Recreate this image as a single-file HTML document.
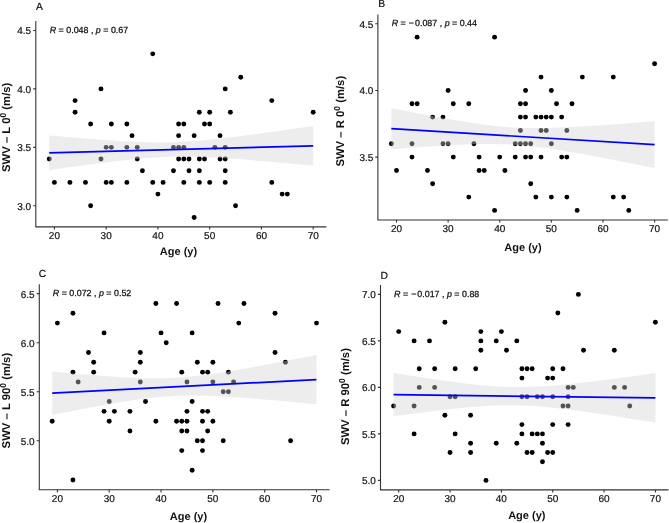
<!DOCTYPE html>
<html><head><meta charset="utf-8"><style>
html,body{margin:0;padding:0;background:#fff;}
body{width:669px;height:523px;overflow:hidden;}
svg{display:block;filter:blur(0.3px);will-change:transform;text-rendering:geometricPrecision;}
</style></head><body>
<svg width="669" height="523" viewBox="0 0 669 523">
<rect width="669" height="523" fill="#fff"/>
<g fill="#000"><circle cx="152.74" cy="53.83" r="2.45"/><circle cx="240.74" cy="77.21" r="2.45"/><circle cx="100.98" cy="88.9" r="2.45"/><circle cx="225.21" cy="88.9" r="2.45"/><circle cx="75.1" cy="100.59" r="2.45"/><circle cx="271.79" cy="100.59" r="2.45"/><circle cx="75.1" cy="112.28" r="2.45"/><circle cx="199.33" cy="112.28" r="2.45"/><circle cx="209.68" cy="112.28" r="2.45"/><circle cx="230.38" cy="112.28" r="2.45"/><circle cx="313.2" cy="112.28" r="2.45"/><circle cx="90.63" cy="123.97" r="2.45"/><circle cx="111.34" cy="123.97" r="2.45"/><circle cx="126.86" cy="123.97" r="2.45"/><circle cx="178.62" cy="123.97" r="2.45"/><circle cx="183.8" cy="123.97" r="2.45"/><circle cx="204.5" cy="123.97" r="2.45"/><circle cx="209.68" cy="123.97" r="2.45"/><circle cx="132.04" cy="135.66" r="2.45"/><circle cx="178.62" cy="135.66" r="2.45"/><circle cx="194.15" cy="135.66" r="2.45"/><circle cx="220.03" cy="135.66" r="2.45"/><circle cx="106.16" cy="147.35" r="2.45"/><circle cx="111.34" cy="147.35" r="2.45"/><circle cx="126.86" cy="147.35" r="2.45"/><circle cx="137.22" cy="147.35" r="2.45"/><circle cx="173.45" cy="147.35" r="2.45"/><circle cx="178.62" cy="147.35" r="2.45"/><circle cx="183.8" cy="147.35" r="2.45"/><circle cx="214.86" cy="147.35" r="2.45"/><circle cx="225.21" cy="147.35" r="2.45"/><circle cx="49.22" cy="159.04" r="2.45"/><circle cx="100.98" cy="159.04" r="2.45"/><circle cx="137.22" cy="159.04" r="2.45"/><circle cx="178.62" cy="159.04" r="2.45"/><circle cx="183.8" cy="159.04" r="2.45"/><circle cx="188.98" cy="159.04" r="2.45"/><circle cx="199.33" cy="159.04" r="2.45"/><circle cx="204.5" cy="159.04" r="2.45"/><circle cx="220.03" cy="159.04" r="2.45"/><circle cx="225.21" cy="159.04" r="2.45"/><circle cx="142.39" cy="170.73" r="2.45"/><circle cx="173.45" cy="170.73" r="2.45"/><circle cx="188.98" cy="170.73" r="2.45"/><circle cx="199.33" cy="170.73" r="2.45"/><circle cx="225.21" cy="170.73" r="2.45"/><circle cx="54.4" cy="182.42" r="2.45"/><circle cx="69.93" cy="182.42" r="2.45"/><circle cx="85.46" cy="182.42" r="2.45"/><circle cx="106.16" cy="182.42" r="2.45"/><circle cx="111.34" cy="182.42" r="2.45"/><circle cx="126.86" cy="182.42" r="2.45"/><circle cx="152.74" cy="182.42" r="2.45"/><circle cx="163.1" cy="182.42" r="2.45"/><circle cx="183.8" cy="182.42" r="2.45"/><circle cx="199.33" cy="182.42" r="2.45"/><circle cx="209.68" cy="182.42" r="2.45"/><circle cx="225.21" cy="182.42" r="2.45"/><circle cx="271.79" cy="182.42" r="2.45"/><circle cx="157.92" cy="194.11" r="2.45"/><circle cx="282.14" cy="194.11" r="2.45"/><circle cx="287.32" cy="194.11" r="2.45"/><circle cx="90.63" cy="205.8" r="2.45"/><circle cx="235.56" cy="205.8" r="2.45"/><circle cx="194.15" cy="217.49" r="2.45"/></g>
<path d="M49.22,135.41 L52.52,135.71 L55.82,136.01 L59.12,136.31 L62.42,136.6 L65.72,136.89 L69.02,137.18 L72.32,137.47 L75.62,137.75 L78.92,138.03 L82.22,138.3 L85.52,138.58 L88.82,138.84 L92.12,139.11 L95.42,139.36 L98.72,139.62 L102.02,139.86 L105.32,140.11 L108.62,140.34 L111.92,140.57 L115.22,140.78 L118.52,140.99 L121.82,141.19 L125.12,141.38 L128.42,141.56 L131.72,141.72 L135.02,141.87 L138.32,142 L141.62,142.12 L144.92,142.22 L148.22,142.31 L151.51,142.37 L154.81,142.41 L158.11,142.43 L161.41,142.42 L164.71,142.39 L168.01,142.34 L171.31,142.26 L174.61,142.16 L177.91,142.03 L181.21,141.88 L184.51,141.7 L187.81,141.5 L191.11,141.28 L194.41,141.04 L197.71,140.77 L201.01,140.49 L204.31,140.19 L207.61,139.88 L210.91,139.55 L214.21,139.21 L217.51,138.85 L220.81,138.49 L224.11,138.11 L227.41,137.73 L230.71,137.33 L234.01,136.93 L237.31,136.52 L240.61,136.1 L243.91,135.67 L247.21,135.25 L250.51,134.81 L253.81,134.37 L257.11,133.93 L260.4,133.48 L263.7,133.03 L267,132.57 L270.3,132.11 L273.6,131.65 L276.9,131.19 L280.2,130.72 L283.5,130.25 L286.8,129.78 L290.1,129.31 L293.4,128.83 L296.7,128.35 L300,127.87 L303.3,127.39 L306.6,126.91 L309.9,126.43 L313.2,125.94 L313.2,165.66 L309.9,165.35 L306.6,165.04 L303.3,164.73 L300,164.43 L296.7,164.12 L293.4,163.82 L290.1,163.52 L286.8,163.22 L283.5,162.92 L280.2,162.63 L276.9,162.34 L273.6,162.05 L270.3,161.76 L267,161.48 L263.7,161.2 L260.4,160.92 L257.11,160.65 L253.81,160.38 L250.51,160.11 L247.21,159.85 L243.91,159.6 L240.61,159.35 L237.31,159.11 L234.01,158.87 L230.71,158.65 L227.41,158.42 L224.11,158.21 L220.81,158.01 L217.51,157.82 L214.21,157.64 L210.91,157.47 L207.61,157.32 L204.31,157.18 L201.01,157.06 L197.71,156.95 L194.41,156.86 L191.11,156.8 L187.81,156.75 L184.51,156.72 L181.21,156.72 L177.91,156.74 L174.61,156.79 L171.31,156.86 L168.01,156.96 L164.71,157.08 L161.41,157.23 L158.11,157.4 L154.81,157.59 L151.51,157.81 L148.22,158.04 L144.92,158.3 L141.62,158.58 L138.32,158.87 L135.02,159.18 L131.72,159.51 L128.42,159.84 L125.12,160.2 L121.82,160.56 L118.52,160.93 L115.22,161.32 L111.92,161.71 L108.62,162.11 L105.32,162.52 L102.02,162.94 L98.72,163.36 L95.42,163.79 L92.12,164.22 L88.82,164.66 L85.52,165.1 L82.22,165.55 L78.92,166 L75.62,166.45 L72.32,166.91 L69.02,167.37 L65.72,167.83 L62.42,168.3 L59.12,168.77 L55.82,169.24 L52.52,169.71 L49.22,170.19 Z" fill="#d3d3d3" fill-opacity="0.4"/>
<line x1="49.22" y1="152.8" x2="313.2" y2="145.8" stroke="#0000ff" stroke-width="1.7"/>
<path d="M35.8,21.1 V226.9 H326.4" fill="none" stroke="#333" stroke-width="1.1"/>
<path d="M54.4,226.9 v2.6 M106.16,226.9 v2.6 M157.92,226.9 v2.6 M209.68,226.9 v2.6 M261.44,226.9 v2.6 M313.2,226.9 v2.6 M35.8,205.8 h-2.6 M35.8,147.35 h-2.6 M35.8,88.9 h-2.6 M35.8,30.45 h-2.6" stroke="#333" stroke-width="1.1"/>
<g font-family="Liberation Sans, sans-serif" font-size="10" fill="#111" stroke="#111" stroke-width="0.2"><text x="54.4" y="238.9" text-anchor="middle">20</text><text x="106.16" y="238.9" text-anchor="middle">30</text><text x="157.92" y="238.9" text-anchor="middle">40</text><text x="209.68" y="238.9" text-anchor="middle">50</text><text x="261.44" y="238.9" text-anchor="middle">60</text><text x="313.2" y="238.9" text-anchor="middle">70</text><text x="31.2" y="209.8" text-anchor="end">3.0</text><text x="31.2" y="151.35" text-anchor="end">3.5</text><text x="31.2" y="92.9" text-anchor="end">4.0</text><text x="31.2" y="34.45" text-anchor="end">4.5</text></g>
<text x="36" y="9.6" font-family="Liberation Sans, sans-serif" font-size="10.3" fill="#111" stroke="#111" stroke-width="0.2">A</text>
<text x="49.7" y="33.2" font-family="Liberation Sans, sans-serif" font-size="8.9" fill="#111" stroke="#111" stroke-width="0.25"><tspan font-style="italic">R</tspan> = 0.048 , <tspan font-style="italic">p</tspan> = 0.67</text>
<text transform="translate(10.2,127.3) rotate(-90)" text-anchor="middle" font-family="Liberation Sans, sans-serif" font-size="11.3" font-weight="bold" fill="#111">SWV – L 0<tspan font-size="8.5" dy="-4.2">0</tspan><tspan dy="4.2">  (m/s)</tspan></text>
<text x="178.5" y="254.6" text-anchor="middle" font-family="Liberation Sans, sans-serif" font-size="11" font-weight="bold" fill="#111">Age (y)</text>
<g fill="#000"><circle cx="417.15" cy="37.13" r="2.45"/><circle cx="494.58" cy="37.13" r="2.45"/><circle cx="654.6" cy="63.79" r="2.45"/><circle cx="541.04" cy="77.12" r="2.45"/><circle cx="582.33" cy="77.12" r="2.45"/><circle cx="613.3" cy="77.12" r="2.45"/><circle cx="448.12" cy="90.45" r="2.45"/><circle cx="525.55" cy="90.45" r="2.45"/><circle cx="551.36" cy="90.45" r="2.45"/><circle cx="411.99" cy="103.78" r="2.45"/><circle cx="417.15" cy="103.78" r="2.45"/><circle cx="453.28" cy="103.78" r="2.45"/><circle cx="468.77" cy="103.78" r="2.45"/><circle cx="520.39" cy="103.78" r="2.45"/><circle cx="525.55" cy="103.78" r="2.45"/><circle cx="556.52" cy="103.78" r="2.45"/><circle cx="572.01" cy="103.78" r="2.45"/><circle cx="432.63" cy="117.11" r="2.45"/><circle cx="442.96" cy="117.11" r="2.45"/><circle cx="520.39" cy="117.11" r="2.45"/><circle cx="525.55" cy="117.11" r="2.45"/><circle cx="535.87" cy="117.11" r="2.45"/><circle cx="541.04" cy="117.11" r="2.45"/><circle cx="546.2" cy="117.11" r="2.45"/><circle cx="551.36" cy="117.11" r="2.45"/><circle cx="561.68" cy="117.11" r="2.45"/><circle cx="520.39" cy="130.44" r="2.45"/><circle cx="541.04" cy="130.44" r="2.45"/><circle cx="546.2" cy="130.44" r="2.45"/><circle cx="566.85" cy="130.44" r="2.45"/><circle cx="391.34" cy="143.77" r="2.45"/><circle cx="411.99" cy="143.77" r="2.45"/><circle cx="442.96" cy="143.77" r="2.45"/><circle cx="448.12" cy="143.77" r="2.45"/><circle cx="473.93" cy="143.77" r="2.45"/><circle cx="515.23" cy="143.77" r="2.45"/><circle cx="520.39" cy="143.77" r="2.45"/><circle cx="525.55" cy="143.77" r="2.45"/><circle cx="530.71" cy="143.77" r="2.45"/><circle cx="551.36" cy="143.77" r="2.45"/><circle cx="411.99" cy="157.1" r="2.45"/><circle cx="453.28" cy="157.1" r="2.45"/><circle cx="479.09" cy="157.1" r="2.45"/><circle cx="499.74" cy="157.1" r="2.45"/><circle cx="515.23" cy="157.1" r="2.45"/><circle cx="525.55" cy="157.1" r="2.45"/><circle cx="530.71" cy="157.1" r="2.45"/><circle cx="541.04" cy="157.1" r="2.45"/><circle cx="561.68" cy="157.1" r="2.45"/><circle cx="566.85" cy="157.1" r="2.45"/><circle cx="396.5" cy="170.43" r="2.45"/><circle cx="427.47" cy="170.43" r="2.45"/><circle cx="479.09" cy="170.43" r="2.45"/><circle cx="484.25" cy="170.43" r="2.45"/><circle cx="504.9" cy="170.43" r="2.45"/><circle cx="432.63" cy="183.76" r="2.45"/><circle cx="530.71" cy="183.76" r="2.45"/><circle cx="468.77" cy="197.09" r="2.45"/><circle cx="535.87" cy="197.09" r="2.45"/><circle cx="551.36" cy="197.09" r="2.45"/><circle cx="566.85" cy="197.09" r="2.45"/><circle cx="613.3" cy="197.09" r="2.45"/><circle cx="623.63" cy="197.09" r="2.45"/><circle cx="494.58" cy="210.42" r="2.45"/><circle cx="577.17" cy="210.42" r="2.45"/><circle cx="628.79" cy="210.42" r="2.45"/></g>
<path d="M391.34,108.1 L394.63,108.75 L397.92,109.41 L401.21,110.06 L404.5,110.71 L407.79,111.36 L411.08,112.01 L414.37,112.65 L417.66,113.28 L420.95,113.92 L424.25,114.55 L427.54,115.17 L430.83,115.79 L434.12,116.41 L437.41,117.01 L440.7,117.62 L443.99,118.21 L447.28,118.8 L450.57,119.38 L453.86,119.95 L457.15,120.51 L460.44,121.06 L463.74,121.6 L467.03,122.12 L470.32,122.63 L473.61,123.13 L476.9,123.61 L480.19,124.07 L483.48,124.52 L486.77,124.94 L490.06,125.34 L493.35,125.71 L496.64,126.07 L499.93,126.39 L503.22,126.69 L506.52,126.95 L509.81,127.19 L513.1,127.4 L516.39,127.58 L519.68,127.73 L522.97,127.85 L526.26,127.95 L529.55,128.01 L532.84,128.05 L536.13,128.07 L539.42,128.06 L542.71,128.03 L546,127.98 L549.3,127.91 L552.59,127.82 L555.88,127.72 L559.17,127.6 L562.46,127.47 L565.75,127.32 L569.04,127.17 L572.33,127 L575.62,126.83 L578.91,126.64 L582.2,126.45 L585.49,126.25 L588.78,126.04 L592.08,125.83 L595.37,125.61 L598.66,125.39 L601.95,125.16 L605.24,124.93 L608.53,124.69 L611.82,124.45 L615.11,124.21 L618.4,123.96 L621.69,123.71 L624.98,123.45 L628.27,123.2 L631.56,122.94 L634.86,122.68 L638.15,122.41 L641.44,122.15 L644.73,121.88 L648.02,121.61 L651.31,121.34 L654.6,121.07 L654.6,168.13 L651.31,167.46 L648.02,166.79 L644.73,166.13 L641.44,165.46 L638.15,164.8 L634.86,164.14 L631.56,163.48 L628.27,162.82 L624.98,162.17 L621.69,161.52 L618.4,160.87 L615.11,160.22 L611.82,159.58 L608.53,158.94 L605.24,158.31 L601.95,157.68 L598.66,157.05 L595.37,156.43 L592.08,155.82 L588.78,155.21 L585.49,154.6 L582.2,154 L578.91,153.41 L575.62,152.83 L572.33,152.26 L569.04,151.7 L565.75,151.14 L562.46,150.6 L559.17,150.07 L555.88,149.56 L552.59,149.06 L549.3,148.57 L546,148.1 L542.71,147.66 L539.42,147.23 L536.13,146.82 L532.84,146.44 L529.55,146.08 L526.26,145.75 L522.97,145.45 L519.68,145.17 L516.39,144.92 L513.1,144.7 L509.81,144.52 L506.52,144.36 L503.22,144.23 L499.93,144.13 L496.64,144.05 L493.35,144.01 L490.06,143.99 L486.77,143.99 L483.48,144.01 L480.19,144.06 L476.9,144.12 L473.61,144.21 L470.32,144.31 L467.03,144.42 L463.74,144.55 L460.44,144.69 L457.15,144.84 L453.86,145 L450.57,145.18 L447.28,145.36 L443.99,145.55 L440.7,145.75 L437.41,145.95 L434.12,146.16 L430.83,146.38 L427.54,146.6 L424.25,146.83 L420.95,147.06 L417.66,147.3 L414.37,147.54 L411.08,147.78 L407.79,148.03 L404.5,148.28 L401.21,148.53 L397.92,148.79 L394.63,149.04 L391.34,149.3 Z" fill="#d3d3d3" fill-opacity="0.4"/>
<line x1="391.34" y1="128.7" x2="654.6" y2="144.6" stroke="#0000ff" stroke-width="1.7"/>
<path d="M377.9,14.47 V220 H667.76" fill="none" stroke="#333" stroke-width="1.1"/>
<path d="M396.5,220 v2.6 M448.12,220 v2.6 M499.74,220 v2.6 M551.36,220 v2.6 M602.98,220 v2.6 M654.6,220 v2.6 M377.9,157.1 h-2.6 M377.9,90.45 h-2.6 M377.9,23.8 h-2.6" stroke="#333" stroke-width="1.1"/>
<g font-family="Liberation Sans, sans-serif" font-size="10" fill="#111" stroke="#111" stroke-width="0.2"><text x="396.5" y="232" text-anchor="middle">20</text><text x="448.12" y="232" text-anchor="middle">30</text><text x="499.74" y="232" text-anchor="middle">40</text><text x="551.36" y="232" text-anchor="middle">50</text><text x="602.98" y="232" text-anchor="middle">60</text><text x="654.6" y="232" text-anchor="middle">70</text><text x="373.3" y="161.1" text-anchor="end">3.5</text><text x="373.3" y="94.45" text-anchor="end">4.0</text><text x="373.3" y="27.8" text-anchor="end">4.5</text></g>
<text x="378.3" y="7.3" font-family="Liberation Sans, sans-serif" font-size="10.3" fill="#111" stroke="#111" stroke-width="0.2">B</text>
<text x="391.7" y="25.9" font-family="Liberation Sans, sans-serif" font-size="8.9" fill="#111" stroke="#111" stroke-width="0.25"><tspan font-style="italic">R</tspan> = <tspan dx="0.6">−</tspan><tspan dx="1">0.087</tspan> , <tspan font-style="italic">p</tspan> = 0.44</text>
<text transform="translate(344.2,121.2) rotate(-90)" text-anchor="middle" font-family="Liberation Sans, sans-serif" font-size="11.3" font-weight="bold" fill="#111">SWV – R 0<tspan font-size="8.5" dy="-4.2">0</tspan><tspan dy="4.2">  (m/s)</tspan></text>
<text x="523" y="251.4" text-anchor="middle" font-family="Liberation Sans, sans-serif" font-size="11" font-weight="bold" fill="#111">Age (y)</text>
<g fill="#000"><circle cx="155.86" cy="303.46" r="2.45"/><circle cx="176.59" cy="303.46" r="2.45"/><circle cx="218.04" cy="303.46" r="2.45"/><circle cx="243.95" cy="303.46" r="2.45"/><circle cx="72.95" cy="313.27" r="2.45"/><circle cx="275.04" cy="313.27" r="2.45"/><circle cx="57.4" cy="323.08" r="2.45"/><circle cx="238.77" cy="323.08" r="2.45"/><circle cx="316.5" cy="323.08" r="2.45"/><circle cx="104.04" cy="332.89" r="2.45"/><circle cx="161.04" cy="332.89" r="2.45"/><circle cx="192.13" cy="332.89" r="2.45"/><circle cx="166.22" cy="342.7" r="2.45"/><circle cx="88.49" cy="352.51" r="2.45"/><circle cx="140.31" cy="352.51" r="2.45"/><circle cx="275.04" cy="352.51" r="2.45"/><circle cx="93.67" cy="362.32" r="2.45"/><circle cx="140.31" cy="362.32" r="2.45"/><circle cx="197.31" cy="362.32" r="2.45"/><circle cx="212.86" cy="362.32" r="2.45"/><circle cx="285.41" cy="362.32" r="2.45"/><circle cx="72.95" cy="372.13" r="2.45"/><circle cx="93.67" cy="372.13" r="2.45"/><circle cx="135.13" cy="372.13" r="2.45"/><circle cx="181.77" cy="372.13" r="2.45"/><circle cx="202.5" cy="372.13" r="2.45"/><circle cx="207.68" cy="372.13" r="2.45"/><circle cx="228.41" cy="372.13" r="2.45"/><circle cx="78.13" cy="381.94" r="2.45"/><circle cx="140.31" cy="381.94" r="2.45"/><circle cx="186.95" cy="381.94" r="2.45"/><circle cx="212.86" cy="381.94" r="2.45"/><circle cx="233.59" cy="381.94" r="2.45"/><circle cx="223.22" cy="391.75" r="2.45"/><circle cx="228.41" cy="391.75" r="2.45"/><circle cx="109.22" cy="401.56" r="2.45"/><circle cx="145.49" cy="401.56" r="2.45"/><circle cx="192.13" cy="401.56" r="2.45"/><circle cx="104.04" cy="411.37" r="2.45"/><circle cx="114.4" cy="411.37" r="2.45"/><circle cx="129.95" cy="411.37" r="2.45"/><circle cx="186.95" cy="411.37" r="2.45"/><circle cx="202.5" cy="411.37" r="2.45"/><circle cx="207.68" cy="411.37" r="2.45"/><circle cx="52.22" cy="421.18" r="2.45"/><circle cx="109.22" cy="421.18" r="2.45"/><circle cx="155.86" cy="421.18" r="2.45"/><circle cx="176.59" cy="421.18" r="2.45"/><circle cx="181.77" cy="421.18" r="2.45"/><circle cx="186.95" cy="421.18" r="2.45"/><circle cx="202.5" cy="421.18" r="2.45"/><circle cx="212.86" cy="421.18" r="2.45"/><circle cx="129.95" cy="430.99" r="2.45"/><circle cx="181.77" cy="430.99" r="2.45"/><circle cx="186.95" cy="430.99" r="2.45"/><circle cx="207.68" cy="430.99" r="2.45"/><circle cx="197.31" cy="440.8" r="2.45"/><circle cx="202.5" cy="440.8" r="2.45"/><circle cx="223.22" cy="440.8" r="2.45"/><circle cx="290.59" cy="440.8" r="2.45"/><circle cx="181.77" cy="450.61" r="2.45"/><circle cx="202.5" cy="450.61" r="2.45"/><circle cx="192.13" cy="470.23" r="2.45"/><circle cx="72.95" cy="480.04" r="2.45"/></g>
<path d="M52.22,371.52 L55.52,371.84 L58.83,372.15 L62.13,372.46 L65.43,372.76 L68.74,373.06 L72.04,373.36 L75.34,373.66 L78.65,373.95 L81.95,374.24 L85.25,374.52 L88.56,374.8 L91.86,375.07 L95.16,375.34 L98.47,375.6 L101.77,375.85 L105.07,376.1 L108.38,376.34 L111.68,376.57 L114.98,376.79 L118.29,377 L121.59,377.2 L124.9,377.39 L128.2,377.56 L131.5,377.72 L134.81,377.86 L138.11,377.99 L141.41,378.1 L144.72,378.18 L148.02,378.25 L151.32,378.29 L154.63,378.31 L157.93,378.3 L161.23,378.26 L164.54,378.19 L167.84,378.1 L171.14,377.97 L174.45,377.81 L177.75,377.62 L181.06,377.4 L184.36,377.15 L187.66,376.87 L190.97,376.56 L194.27,376.22 L197.57,375.85 L200.88,375.47 L204.18,375.06 L207.48,374.62 L210.79,374.17 L214.09,373.7 L217.39,373.21 L220.7,372.71 L224,372.19 L227.3,371.66 L230.61,371.12 L233.91,370.56 L237.22,370 L240.52,369.43 L243.82,368.85 L247.13,368.26 L250.43,367.66 L253.73,367.06 L257.04,366.45 L260.34,365.83 L263.64,365.22 L266.95,364.59 L270.25,363.96 L273.55,363.33 L276.86,362.69 L280.16,362.05 L283.46,361.41 L286.77,360.76 L290.07,360.12 L293.38,359.46 L296.68,358.81 L299.98,358.15 L303.29,357.5 L306.59,356.84 L309.89,356.17 L313.2,355.51 L316.5,354.84 L316.5,404.36 L313.2,404.03 L309.89,403.71 L306.59,403.38 L303.29,403.06 L299.98,402.75 L296.68,402.43 L293.38,402.12 L290.07,401.8 L286.77,401.5 L283.46,401.19 L280.16,400.89 L276.86,400.59 L273.55,400.29 L270.25,400 L266.95,399.71 L263.64,399.42 L260.34,399.15 L257.04,398.87 L253.73,398.6 L250.43,398.34 L247.13,398.08 L243.82,397.83 L240.52,397.59 L237.22,397.36 L233.91,397.14 L230.61,396.92 L227.3,396.72 L224,396.53 L220.7,396.35 L217.39,396.19 L214.09,396.04 L210.79,395.91 L207.48,395.8 L204.18,395.7 L200.88,395.63 L197.57,395.59 L194.27,395.56 L190.97,395.56 L187.66,395.59 L184.36,395.65 L181.06,395.74 L177.75,395.86 L174.45,396.01 L171.14,396.19 L167.84,396.4 L164.54,396.65 L161.23,396.92 L157.93,397.22 L154.63,397.55 L151.32,397.91 L148.02,398.29 L144.72,398.7 L141.41,399.12 L138.11,399.57 L134.81,400.04 L131.5,400.52 L128.2,401.02 L124.9,401.53 L121.59,402.06 L118.29,402.6 L114.98,403.15 L111.68,403.71 L108.38,404.28 L105.07,404.86 L101.77,405.45 L98.47,406.04 L95.16,406.64 L91.86,407.25 L88.56,407.86 L85.25,408.48 L81.95,409.1 L78.65,409.73 L75.34,410.36 L72.04,411 L68.74,411.64 L65.43,412.28 L62.13,412.92 L58.83,413.57 L55.52,414.22 L52.22,414.88 Z" fill="#d3d3d3" fill-opacity="0.4"/>
<line x1="52.22" y1="393.2" x2="316.5" y2="379.6" stroke="#0000ff" stroke-width="1.7"/>
<path d="M39.3,284.33 V489.8 H329.71" fill="none" stroke="#333" stroke-width="1.1"/>
<path d="M57.4,489.8 v2.6 M109.22,489.8 v2.6 M161.04,489.8 v2.6 M212.86,489.8 v2.6 M264.68,489.8 v2.6 M316.5,489.8 v2.6 M39.3,440.8 h-2.6 M39.3,391.75 h-2.6 M39.3,342.7 h-2.6 M39.3,293.65 h-2.6" stroke="#333" stroke-width="1.1"/>
<g font-family="Liberation Sans, sans-serif" font-size="10" fill="#111" stroke="#111" stroke-width="0.2"><text x="57.4" y="501.8" text-anchor="middle">20</text><text x="109.22" y="501.8" text-anchor="middle">30</text><text x="161.04" y="501.8" text-anchor="middle">40</text><text x="212.86" y="501.8" text-anchor="middle">50</text><text x="264.68" y="501.8" text-anchor="middle">60</text><text x="316.5" y="501.8" text-anchor="middle">70</text><text x="34.7" y="444.8" text-anchor="end">5.0</text><text x="34.7" y="395.75" text-anchor="end">5.5</text><text x="34.7" y="346.7" text-anchor="end">6.0</text><text x="34.7" y="297.65" text-anchor="end">6.5</text></g>
<text x="38.8" y="277.4" font-family="Liberation Sans, sans-serif" font-size="10.3" fill="#111" stroke="#111" stroke-width="0.2">C</text>
<text x="52.8" y="296.2" font-family="Liberation Sans, sans-serif" font-size="8.9" fill="#111" stroke="#111" stroke-width="0.25"><tspan font-style="italic">R</tspan> = 0.072 , <tspan font-style="italic">p</tspan> = 0.52</text>
<text transform="translate(10.2,400.6) rotate(-90)" text-anchor="middle" font-family="Liberation Sans, sans-serif" font-size="11.3" font-weight="bold" fill="#111">SWV – L 90<tspan font-size="8.5" dy="-4.2">0</tspan><tspan dy="4.2">  (m/s)</tspan></text>
<text x="188.5" y="519.6" text-anchor="middle" font-family="Liberation Sans, sans-serif" font-size="11" font-weight="bold" fill="#111">Age (y)</text>
<g fill="#000"><circle cx="578.39" cy="294.4" r="2.45"/><circle cx="557.85" cy="313" r="2.45"/><circle cx="444.91" cy="322.3" r="2.45"/><circle cx="655.4" cy="322.3" r="2.45"/><circle cx="398.7" cy="331.6" r="2.45"/><circle cx="480.84" cy="331.6" r="2.45"/><circle cx="501.38" cy="331.6" r="2.45"/><circle cx="414.1" cy="340.9" r="2.45"/><circle cx="429.5" cy="340.9" r="2.45"/><circle cx="480.84" cy="340.9" r="2.45"/><circle cx="496.25" cy="340.9" r="2.45"/><circle cx="516.78" cy="340.9" r="2.45"/><circle cx="480.84" cy="350.2" r="2.45"/><circle cx="506.51" cy="350.2" r="2.45"/><circle cx="583.52" cy="350.2" r="2.45"/><circle cx="614.33" cy="350.2" r="2.45"/><circle cx="419.24" cy="368.8" r="2.45"/><circle cx="434.64" cy="368.8" r="2.45"/><circle cx="455.17" cy="368.8" r="2.45"/><circle cx="475.71" cy="368.8" r="2.45"/><circle cx="521.92" cy="368.8" r="2.45"/><circle cx="527.05" cy="368.8" r="2.45"/><circle cx="532.18" cy="368.8" r="2.45"/><circle cx="552.72" cy="368.8" r="2.45"/><circle cx="562.99" cy="368.8" r="2.45"/><circle cx="521.92" cy="378.1" r="2.45"/><circle cx="547.59" cy="378.1" r="2.45"/><circle cx="552.72" cy="378.1" r="2.45"/><circle cx="419.24" cy="387.4" r="2.45"/><circle cx="434.64" cy="387.4" r="2.45"/><circle cx="568.12" cy="387.4" r="2.45"/><circle cx="573.26" cy="387.4" r="2.45"/><circle cx="614.33" cy="387.4" r="2.45"/><circle cx="624.6" cy="387.4" r="2.45"/><circle cx="450.04" cy="396.7" r="2.45"/><circle cx="455.17" cy="396.7" r="2.45"/><circle cx="521.92" cy="396.7" r="2.45"/><circle cx="527.05" cy="396.7" r="2.45"/><circle cx="537.32" cy="396.7" r="2.45"/><circle cx="542.45" cy="396.7" r="2.45"/><circle cx="552.72" cy="396.7" r="2.45"/><circle cx="568.12" cy="396.7" r="2.45"/><circle cx="393.57" cy="406" r="2.45"/><circle cx="414.1" cy="406" r="2.45"/><circle cx="562.99" cy="406" r="2.45"/><circle cx="568.12" cy="406" r="2.45"/><circle cx="629.73" cy="406" r="2.45"/><circle cx="444.91" cy="415.3" r="2.45"/><circle cx="470.58" cy="415.3" r="2.45"/><circle cx="521.92" cy="424.6" r="2.45"/><circle cx="552.72" cy="424.6" r="2.45"/><circle cx="568.12" cy="424.6" r="2.45"/><circle cx="414.1" cy="433.9" r="2.45"/><circle cx="455.17" cy="433.9" r="2.45"/><circle cx="521.92" cy="433.9" r="2.45"/><circle cx="532.18" cy="433.9" r="2.45"/><circle cx="537.32" cy="433.9" r="2.45"/><circle cx="542.45" cy="433.9" r="2.45"/><circle cx="470.58" cy="443.2" r="2.45"/><circle cx="496.25" cy="443.2" r="2.45"/><circle cx="516.78" cy="443.2" r="2.45"/><circle cx="542.45" cy="443.2" r="2.45"/><circle cx="450.04" cy="452.5" r="2.45"/><circle cx="470.58" cy="452.5" r="2.45"/><circle cx="527.05" cy="452.5" r="2.45"/><circle cx="532.18" cy="452.5" r="2.45"/><circle cx="547.59" cy="452.5" r="2.45"/><circle cx="552.72" cy="452.5" r="2.45"/><circle cx="542.45" cy="461.8" r="2.45"/><circle cx="485.98" cy="480.4" r="2.45"/></g>
<path d="M393.57,372.92 L396.84,373.45 L400.11,373.97 L403.38,374.49 L406.66,375.01 L409.93,375.52 L413.2,376.03 L416.48,376.54 L419.75,377.04 L423.02,377.54 L426.3,378.03 L429.57,378.52 L432.84,379.01 L436.11,379.48 L439.39,379.96 L442.66,380.42 L445.93,380.88 L449.21,381.33 L452.48,381.77 L455.75,382.2 L459.02,382.63 L462.3,383.04 L465.57,383.44 L468.84,383.82 L472.12,384.19 L475.39,384.55 L478.66,384.88 L481.93,385.2 L485.21,385.5 L488.48,385.78 L491.75,386.03 L495.03,386.26 L498.3,386.46 L501.57,386.63 L504.85,386.78 L508.12,386.89 L511.39,386.97 L514.66,387.03 L517.94,387.05 L521.21,387.04 L524.48,387 L527.76,386.93 L531.03,386.83 L534.3,386.7 L537.57,386.55 L540.85,386.37 L544.12,386.17 L547.39,385.95 L550.67,385.71 L553.94,385.45 L557.21,385.17 L560.49,384.88 L563.76,384.58 L567.03,384.26 L570.3,383.93 L573.58,383.58 L576.85,383.23 L580.12,382.87 L583.4,382.5 L586.67,382.12 L589.94,381.74 L593.21,381.34 L596.49,380.95 L599.76,380.54 L603.03,380.14 L606.31,379.72 L609.58,379.31 L612.85,378.88 L616.12,378.46 L619.4,378.03 L622.67,377.6 L625.94,377.16 L629.22,376.73 L632.49,376.29 L635.76,375.84 L639.04,375.4 L642.31,374.95 L645.58,374.5 L648.85,374.05 L652.13,373.6 L655.4,373.14 L655.4,422.66 L652.13,422.12 L648.85,421.58 L645.58,421.05 L642.31,420.52 L639.04,419.99 L635.76,419.46 L632.49,418.94 L629.22,418.41 L625.94,417.89 L622.67,417.38 L619.4,416.86 L616.12,416.35 L612.85,415.84 L609.58,415.34 L606.31,414.84 L603.03,414.34 L599.76,413.85 L596.49,413.37 L593.21,412.89 L589.94,412.41 L586.67,411.95 L583.4,411.49 L580.12,411.03 L576.85,410.59 L573.58,410.15 L570.3,409.73 L567.03,409.32 L563.76,408.91 L560.49,408.52 L557.21,408.15 L553.94,407.79 L550.67,407.45 L547.39,407.13 L544.12,406.82 L540.85,406.54 L537.57,406.28 L534.3,406.05 L531.03,405.84 L527.76,405.66 L524.48,405.5 L521.21,405.38 L517.94,405.29 L514.66,405.23 L511.39,405.2 L508.12,405.2 L504.85,405.23 L501.57,405.29 L498.3,405.38 L495.03,405.5 L491.75,405.65 L488.48,405.82 L485.21,406.01 L481.93,406.23 L478.66,406.46 L475.39,406.72 L472.12,406.99 L468.84,407.28 L465.57,407.58 L462.3,407.9 L459.02,408.22 L455.75,408.56 L452.48,408.91 L449.21,409.27 L445.93,409.64 L442.66,410.02 L439.39,410.4 L436.11,410.79 L432.84,411.18 L429.57,411.59 L426.3,411.99 L423.02,412.4 L419.75,412.82 L416.48,413.24 L413.2,413.67 L409.93,414.09 L406.66,414.52 L403.38,414.96 L400.11,415.39 L396.84,415.83 L393.57,416.28 Z" fill="#d3d3d3" fill-opacity="0.4"/>
<line x1="393.57" y1="394.6" x2="655.4" y2="397.9" stroke="#0000ff" stroke-width="1.7"/>
<path d="M380.5,285.1 V489.9 H668.49" fill="none" stroke="#333" stroke-width="1.1"/>
<path d="M398.7,489.9 v2.6 M450.04,489.9 v2.6 M501.38,489.9 v2.6 M552.72,489.9 v2.6 M604.06,489.9 v2.6 M655.4,489.9 v2.6 M380.5,480.4 h-2.6 M380.5,433.9 h-2.6 M380.5,387.4 h-2.6 M380.5,340.9 h-2.6 M380.5,294.4 h-2.6" stroke="#333" stroke-width="1.1"/>
<g font-family="Liberation Sans, sans-serif" font-size="10" fill="#111" stroke="#111" stroke-width="0.2"><text x="398.7" y="501.9" text-anchor="middle">20</text><text x="450.04" y="501.9" text-anchor="middle">30</text><text x="501.38" y="501.9" text-anchor="middle">40</text><text x="552.72" y="501.9" text-anchor="middle">50</text><text x="604.06" y="501.9" text-anchor="middle">60</text><text x="655.4" y="501.9" text-anchor="middle">70</text><text x="375.9" y="484.4" text-anchor="end">5.0</text><text x="375.9" y="437.9" text-anchor="end">5.5</text><text x="375.9" y="391.4" text-anchor="end">6.0</text><text x="375.9" y="344.9" text-anchor="end">6.5</text><text x="375.9" y="298.4" text-anchor="end">7.0</text></g>
<text x="380.6" y="279" font-family="Liberation Sans, sans-serif" font-size="10.3" fill="#111" stroke="#111" stroke-width="0.2">D</text>
<text x="394" y="297.3" font-family="Liberation Sans, sans-serif" font-size="8.9" fill="#111" stroke="#111" stroke-width="0.25"><tspan font-style="italic">R</tspan> = <tspan dx="0.6">−</tspan><tspan dx="1">0.017</tspan> , <tspan font-style="italic">p</tspan> = 0.88</text>
<text transform="translate(348.8,396.6) rotate(-90)" text-anchor="middle" font-family="Liberation Sans, sans-serif" font-size="11.3" font-weight="bold" fill="#111">SWV – R 90<tspan font-size="8.5" dy="-4.2">0</tspan><tspan dy="4.2">  (m/s)</tspan></text>
<text x="526.8" y="519.1" text-anchor="middle" font-family="Liberation Sans, sans-serif" font-size="11" font-weight="bold" fill="#111">Age (y)</text>
</svg>
</body></html>
